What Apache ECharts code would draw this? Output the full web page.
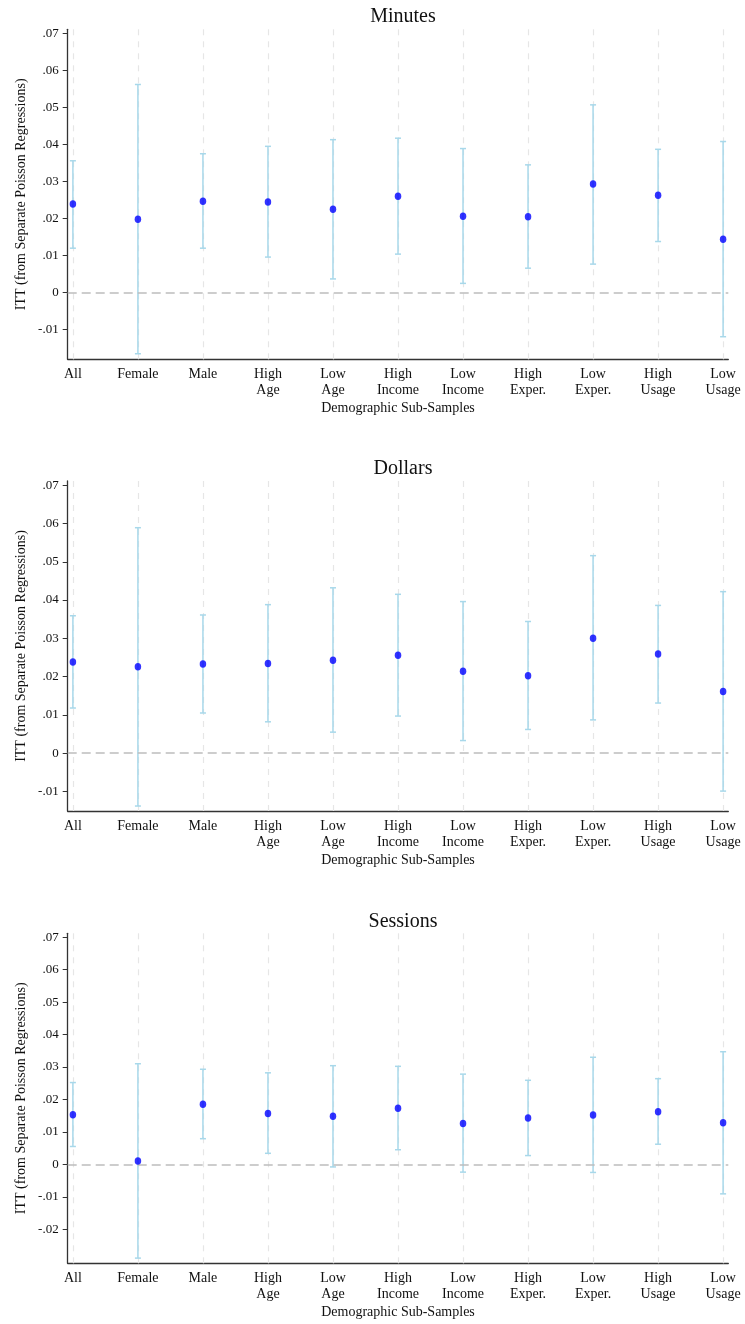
<!DOCTYPE html>
<html>
<head>
<meta charset="utf-8">
<script src="https://cdn.jsdelivr.net/npm/echarts@6/dist/echarts.min.js"></script>
<style>
html,body{margin:0;padding:0;background:#fff;}
#chart{width:745px;height:1324px;}
</style>
</head>
<body>
<div id="chart"></div>
<script>
var categories = ["All", "Female", "Male", "High\nAge", "Low\nAge", "High\nIncome", "Low\nIncome", "High\nExper.", "Low\nExper.", "High\nUsage", "Low\nUsage"];
var panelTitles = ["Minutes", "Dollars", "Sessions"];
var yTickValues = [[-0.01, 0, 0.01, 0.02, 0.03, 0.04, 0.05, 0.06, 0.07],
                   [-0.01, 0, 0.01, 0.02, 0.03, 0.04, 0.05, 0.06, 0.07],
                   [-0.02, -0.01, 0, 0.01, 0.02, 0.03, 0.04, 0.05, 0.06, 0.07]];

var minutesEst = [0.0239, 0.0198, 0.0247, 0.0245, 0.0225, 0.0260, 0.0206, 0.0205, 0.0293, 0.0263, 0.0144];
var minutesLo  = [0.0120, -0.0165, 0.0120, 0.0096, 0.0037, 0.0104, 0.0025, 0.0066, 0.0077, 0.0138, -0.0119];
var minutesHi  = [0.0356, 0.0562, 0.0375, 0.0395, 0.0413, 0.0417, 0.0389, 0.0345, 0.0507, 0.0387, 0.0408];

var dollarsEst = [0.0238, 0.0226, 0.0233, 0.0234, 0.0243, 0.0256, 0.0214, 0.0202, 0.0300, 0.0259, 0.0161];
var dollarsLo  = [0.0118, -0.0138, 0.0105, 0.0082, 0.0055, 0.0097, 0.0033, 0.0062, 0.0087, 0.0131, -0.0099];
var dollarsHi  = [0.0359, 0.0589, 0.0361, 0.0388, 0.0432, 0.0415, 0.0396, 0.0344, 0.0516, 0.0386, 0.0422];

var sessionsEst = [0.0153, 0.0010, 0.0185, 0.0157, 0.0148, 0.0173, 0.0126, 0.0143, 0.0152, 0.0162, 0.0128];
var sessionsLo  = [0.0055, -0.0289, 0.0079, 0.0034, -0.0008, 0.0045, -0.0024, 0.0027, -0.0025, 0.0062, -0.0091];
var sessionsHi  = [0.0252, 0.0310, 0.0293, 0.0282, 0.0304, 0.0302, 0.0278, 0.0259, 0.0330, 0.0264, 0.0347];

var yRanges = [[-0.018, 0.0711], [-0.0151, 0.0711], [-0.0305, 0.0712]];

var panels = [
  {est: minutesEst, lo: minutesLo, hi: minutesHi},
  {est: dollarsEst, lo: dollarsLo, hi: dollarsHi},
  {est: sessionsEst, lo: sessionsLo, hi: sessionsHi}
];

var FONT = "Liberation Serif";
var gridTops = [29.3, 481, 933.3];
var gridHeights = [330, 330, 330];
var titleTops = [2, 454, 907];

function fmtY(v) {
  if (Math.abs(v) < 1e-9) return "0";
  var s = (Math.round(v * 100) / 100).toFixed(2);
  return s.replace("0.", ".");
}

var idx = categories.map(function (c, i) { return i; });

var option = {
  animation: false,
  backgroundColor: "#fff",
  title: [], grid: [], xAxis: [], yAxis: [], series: []
};

panels.forEach(function (p, k) {
  option.title.push({
    text: panelTitles[k], left: 398, top: titleTops[k], textAlign: "center",
    textStyle: {fontFamily: FONT, fontSize: 20, fontWeight: "normal", color: "#111"}
  });
  option.grid.push({left: 67.7, right: 16.7, top: gridTops[k], height: gridHeights[k], containLabel: false});
  option.xAxis.push({
    type: "value", gridIndex: k, min: -0.08, max: 10.08,
    name: "Demographic Sub-Samples", nameLocation: "middle", nameGap: 42,
    nameTextStyle: {fontFamily: FONT, fontSize: 14, color: "#111"},
    axisLine: {show: true, onZero: false, lineStyle: {color: "#333", width: 1.3}},
    axisTick: {show: false},
    splitLine: {show: false},
    axisLabel: {
      customValues: idx, margin: 7, fontFamily: FONT, fontSize: 14, color: "#111", lineHeight: 16,
      formatter: function (v) { return categories[Math.round(v)]; }
    }
  });
  option.yAxis.push({
    type: "value", gridIndex: k, min: yRanges[k][0], max: yRanges[k][1],
    name: "ITT (from Separate Poisson Regressions)", nameLocation: "middle", nameGap: 39,
    nameMoveOverlap: false,
    nameTextStyle: {fontFamily: FONT, fontSize: 14, color: "#111"},
    axisLine: {show: true, onZero: false, lineStyle: {color: "#333", width: 1.3}},
    axisTick: {show: true, customValues: yTickValues[k], length: 5, lineStyle: {color: "#333"}},
    splitLine: {show: false},
    axisLabel: {
      customValues: yTickValues[k], margin: 9, fontFamily: FONT, fontSize: 13, color: "#111",
      formatter: fmtY
    }
  });
  var ebData = idx.map(function (i) { return [i, p.lo[i], p.hi[i]]; });
  option.series.push({
    type: "custom", xAxisIndex: k, yAxisIndex: k, z: 3,
    data: ebData,
    renderItem: function (params, api) {
      var x = api.value(0);
      var a = api.coord([x, api.value(1)]);
      var b = api.coord([x, api.value(2)]);
      var st = {stroke: "#a8d8ea", lineWidth: 1.5};
      return {type: "group", children: [
        {type: "line", shape: {x1: a[0], y1: a[1], x2: b[0], y2: b[1]}, style: st},
        {type: "line", shape: {x1: a[0] - 3, y1: a[1], x2: a[0] + 3, y2: a[1]}, style: st},
        {type: "line", shape: {x1: b[0] - 3, y1: b[1], x2: b[0] + 3, y2: b[1]}, style: st}
      ]};
    },
    markLine: {
      silent: true, symbol: "none", label: {show: false}, z: 1,
      lineStyle: {color: "#e6e6e6", type: [6, 6], width: 1.2},
      data: idx.map(function (i) { return {xAxis: i}; })
    }
  });
  option.series.push({
    type: "scatter", xAxisIndex: k, yAxisIndex: k, z: 5,
    symbol: "circle", symbolSize: [6.5, 7.5],
    itemStyle: {color: "#0000ff"},
    data: idx.map(function (i) { return [i, p.est[i]]; }),
    markLine: {
      silent: true, symbol: "none", label: {show: false},
      lineStyle: {color: "#bdbdbd", type: [9, 5], width: 1.5},
      data: [{yAxis: 0}]
    }
  });
});

var chart = echarts.init(document.getElementById("chart"), null, {renderer: "canvas"});
chart.setOption(option);
</script>
</body>
</html>
